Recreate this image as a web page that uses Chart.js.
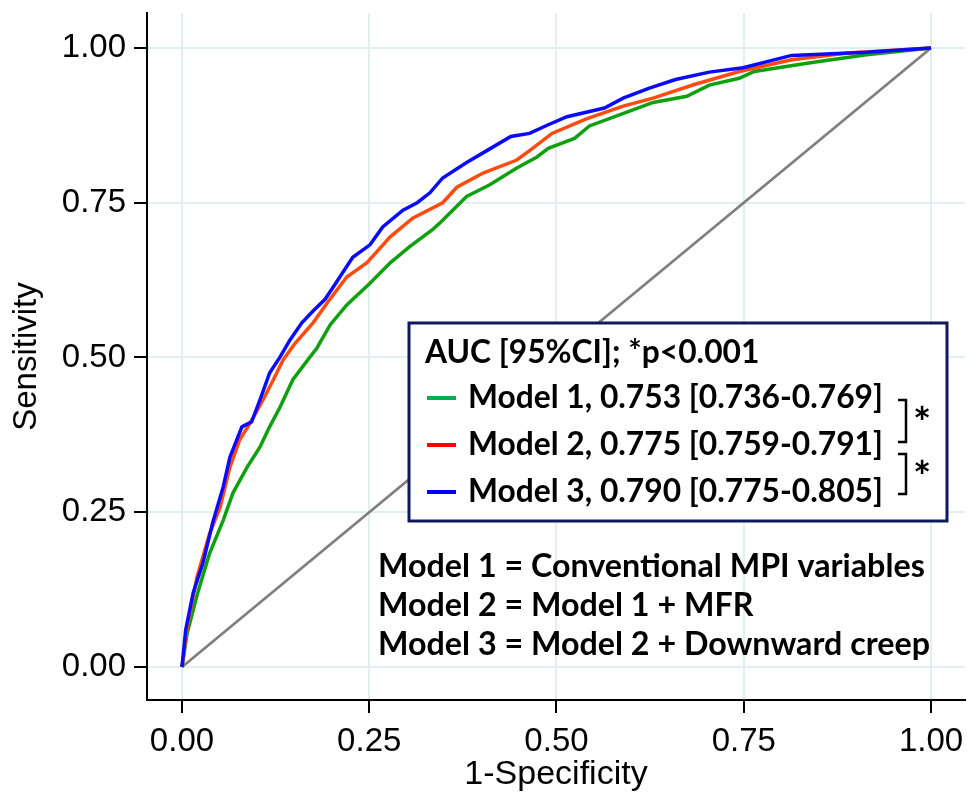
<!DOCTYPE html>
<html>
<head>
<meta charset="utf-8">
<script src="https://cdn.jsdelivr.net/npm/chart.js@4.4.1/dist/chart.umd.min.js"></script>
<style>
  html, body { margin: 0; padding: 0; background: #fff; }
  #wrap { width: 967px; height: 792px; }
</style>
</head>
<body>
<div id="wrap"><canvas id="roc" width="967" height="792"></canvas></div>
<script>
// ROC curves: x = 1-specificity, y = sensitivity
const model3Fpr = [0, 0.005, 0.015, 0.028, 0.041, 0.055, 0.064, 0.080, 0.093, 0.104, 0.117, 0.131, 0.144, 0.160, 0.175, 0.191, 0.202, 0.228, 0.251, 0.268, 0.295, 0.314, 0.331, 0.348, 0.380, 0.411, 0.439, 0.464, 0.489, 0.514, 0.564, 0.589, 0.624, 0.659, 0.704, 0.749, 0.814, 0.914, 1];
const model3Tpr = [0, 0.060, 0.120, 0.168, 0.233, 0.291, 0.339, 0.388, 0.396, 0.431, 0.475, 0.501, 0.528, 0.556, 0.575, 0.594, 0.614, 0.662, 0.682, 0.711, 0.738, 0.750, 0.766, 0.790, 0.815, 0.837, 0.857, 0.862, 0.876, 0.889, 0.903, 0.919, 0.935, 0.949, 0.961, 0.968, 0.988, 0.993, 1];

const model2Fpr = [0, 0.007, 0.020, 0.037, 0.051, 0.064, 0.077, 0.091, 0.108, 0.122, 0.135, 0.151, 0.175, 0.195, 0.220, 0.247, 0.278, 0.308, 0.348, 0.367, 0.402, 0.447, 0.465, 0.494, 0.539, 0.589, 0.629, 0.684, 0.744, 0.814, 0.889, 1];
const model2Tpr = [0, 0.065, 0.145, 0.216, 0.258, 0.323, 0.367, 0.394, 0.431, 0.464, 0.496, 0.523, 0.556, 0.590, 0.630, 0.653, 0.695, 0.725, 0.750, 0.775, 0.798, 0.819, 0.835, 0.862, 0.885, 0.906, 0.919, 0.941, 0.962, 0.981, 0.992, 1];

const model1Fpr = [0, 0.007, 0.021, 0.037, 0.055, 0.068, 0.087, 0.104, 0.117, 0.131, 0.148, 0.171, 0.180, 0.198, 0.220, 0.251, 0.278, 0.304, 0.334, 0.344, 0.380, 0.411, 0.447, 0.474, 0.489, 0.524, 0.544, 0.584, 0.629, 0.674, 0.704, 0.744, 0.764, 0.839, 0.914, 1];
const model1Tpr = [0, 0.055, 0.120, 0.184, 0.237, 0.281, 0.323, 0.355, 0.388, 0.420, 0.464, 0.501, 0.515, 0.553, 0.585, 0.620, 0.653, 0.679, 0.706, 0.717, 0.760, 0.779, 0.806, 0.824, 0.838, 0.854, 0.874, 0.892, 0.912, 0.922, 0.940, 0.951, 0.962, 0.976, 0.989, 1];

const refFpr = [0, 1];
const refTpr = [0, 1];

const xTicks = [0, 0.25, 0.5, 0.75, 1];
const xTickLabels = ['0.00', '0.25', '0.50', '0.75', '1.00'];
const yTicks = [0, 0.25, 0.5, 0.75, 1];
const yTickLabels = ['0.00', '0.25', '0.50', '0.75', '1.00'];

const legendTitle = 'AUC [95%CI]; *p<0.001';
const legendLabels = ['Model 1, 0.753 [0.736-0.769]', 'Model 2, 0.775 [0.759-0.791]', 'Model 3, 0.790 [0.775-0.805]'];
const legendColors = ['#00b050', '#ff0000', '#0000ff'];
const noteLines = ['Model 1 = Conventional MPI variables', 'Model 2 = Model 1 + MFR', 'Model 3 = Model 2 + Downward creep'];

function toPoints(xs, ys) {
  return xs.map((x, i) => ({ x: x, y: ys[i] }));
}

// tamaño de letra para que el texto ocupe el ancho deseado
function fitSize(ctx, text, width) {
  ctx.font = 'bold 100px Lato';
  return 100 * width / ctx.measureText(text).width;
}

const boxPlugin = {
  id: 'aucBox',
  afterDraw(chart) {
    const ctx = chart.ctx;
    ctx.save();

    // recuadro del AUC
    ctx.fillStyle = '#ffffff';
    ctx.fillRect(409, 323, 538, 198);
    ctx.strokeStyle = '#0d1b5e';
    ctx.lineWidth = 3;
    ctx.strokeRect(409, 323, 538, 198);

    const size = fitSize(ctx, legendLabels[0], 415);
    ctx.font = 'bold ' + size + 'px Lato';
    ctx.fillStyle = '#000';
    ctx.textBaseline = 'alphabetic';
    ctx.textAlign = 'left';
    ctx.fillText(legendTitle, 425, 363);

    const rowBase = [408, 455, 502];
    legendLabels.forEach((t, i) => {
      ctx.strokeStyle = legendColors[i];
      ctx.lineWidth = 4;
      ctx.beginPath();
      ctx.moveTo(427, rowBase[i] - 10);
      ctx.lineTo(456, rowBase[i] - 10);
      ctx.stroke();
      ctx.fillText(t, 468, rowBase[i]);
    });

    // corchetes de comparación
    ctx.strokeStyle = '#000';
    ctx.lineWidth = 2.5;
    [[400, 442], [454, 494]].forEach(b => {
      ctx.beginPath();
      ctx.moveTo(898, b[0]);
      ctx.lineTo(906, b[0]);
      ctx.lineTo(906, b[1]);
      ctx.lineTo(898, b[1]);
      ctx.stroke();
    });
    ctx.font = 'bold ' + (size * 1.35) + 'px Lato';
    ctx.textAlign = 'center';
    ctx.fillText('*', 922, 438);
    ctx.fillText('*', 922, 492);

    // notas de los modelos
    const noteSize = fitSize(ctx, noteLines[0], 547);
    ctx.font = 'bold ' + noteSize + 'px Lato';
    ctx.textAlign = 'left';
    const noteBase = [577, 616, 655];
    noteLines.forEach((t, i) => ctx.fillText(t, 378, noteBase[i]));

    ctx.restore();
  }
};

const ctx = document.getElementById('roc').getContext('2d');
new Chart(ctx, {
  type: 'line',
  data: {
    datasets: [
      { label: 'Model 3', data: toPoints(model3Fpr, model3Tpr), borderColor: '#0a0aff', borderWidth: 3.5 },
      { label: 'Model 2', data: toPoints(model2Fpr, model2Tpr), borderColor: '#ff4a10', borderWidth: 3.5 },
      { label: 'Model 1', data: toPoints(model1Fpr, model1Tpr), borderColor: '#0ea00e', borderWidth: 3.5 },
      { label: 'Reference', data: toPoints(refFpr, refTpr), borderColor: '#7f7f7f', borderWidth: 2.8 }
    ]
  },
  options: {
    responsive: false,
    animation: false,
    layout: { padding: { top: 13, right: 2, left: 0, bottom: 0 } },
    elements: { point: { radius: 0 }, line: { tension: 0, fill: false } },
    plugins: { legend: { display: false }, tooltip: { enabled: false } },
    scales: {
      x: {
        type: 'linear',
        min: -0.0467,
        max: 1.0454,
        afterFit: s => { s.height = 92; s.paddingLeft = 0; s.paddingRight = 0; },
        afterBuildTicks: s => { s.ticks = xTicks.map(v => ({ value: v })); },
        grid: { color: '#e3eef0', lineWidth: 2, tickColor: '#000', tickLength: 13, tickWidth: 2 },
        border: { color: '#000', width: 2 },
        ticks: {
          callback: (v, i) => xTickLabels[i],
          font: { family: 'Liberation Sans', size: 33 },
          color: '#000',
          padding: 9,
          maxRotation: 0,
          autoSkip: false
        },
        title: {
          display: true,
          text: '1-Specificity',
          font: { family: 'Liberation Sans', size: 34 },
          color: '#000',
          padding: { top: 0, bottom: -3 }
        }
      },
      y: {
        type: 'linear',
        min: -0.0533,
        max: 1.0565,
        afterFit: s => { s.width = 147; s.paddingTop = 0; s.paddingBottom = 0; },
        afterBuildTicks: s => { s.ticks = yTicks.map(v => ({ value: v })); },
        grid: { color: '#e3eef0', lineWidth: 2, tickColor: '#000', tickLength: 13, tickWidth: 2 },
        border: { color: '#000', width: 2 },
        ticks: {
          callback: (v, i) => yTickLabels[i],
          font: { family: 'Liberation Sans', size: 33 },
          color: '#000',
          padding: 8,
          autoSkip: false
        },
        title: {
          display: true,
          text: 'Sensitivity',
          font: { family: 'Liberation Sans', size: 33 },
          color: '#000',
          padding: { top: 7, bottom: 0 }
        }
      }
    }
  },
  plugins: [boxPlugin]
});
</script>
</body>
</html>
